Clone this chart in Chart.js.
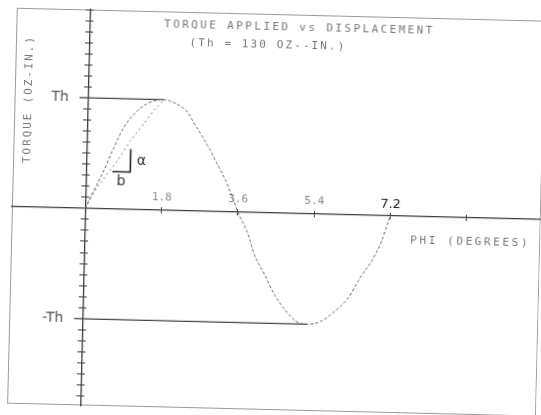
<!DOCTYPE html>
<html>
<head>
<meta charset="utf-8">
<title>Torque applied vs displacement</title>
<script src="https://cdn.jsdelivr.net/npm/chart.js@4.4.1/dist/chart.umd.min.js"></script>
<style>
  html, body { margin: 0; padding: 0; background: #fff; overflow: hidden; }
  #wrap { width: 541px; height: 415px; }
  /* the original is a slightly skewed scan */
  #chart { transform: rotate(1.4deg); transform-origin: 50% 50%; }
</style>
</head>
<body>
<div id="wrap"><canvas id="chart" width="541" height="415"></canvas></div>
<script>
// torque curve: phi in degrees, torque in oz-in (Th = 130)
var curvePhi    = [0, 0.19, 0.38, 0.64, 0.86, 1.13, 1.40, 1.8, 2.07, 2.36, 2.52, 2.68, 2.88, 3.09, 3.30, 3.50, 3.6,
                   3.85, 4.01, 4.26, 4.51, 4.76, 5.04, 5.3, 5.63, 5.94, 6.25, 6.52, 6.78, 7.01, 7.16, 7.2];
var curveTorque = [0, 21, 41, 72, 96, 114, 125, 130, 126, 116, 103, 91, 75, 56, 36, 13, 0,
                   -25, -49, -72, -96, -113, -127, -130, -126, -114, -98, -74, -54, -30, -6, 0];

// the near-straight dotted line from the origin up to the peak
var chordPhi    = [0, 0.27, 0.73, 1.03, 1.33, 1.56, 1.8];
var chordTorque = [0, 25, 57, 81, 101, 117, 130];

// Th / -Th reference lines
var Th = 130;
var thPhi      = [-0.2, 1.8];
var minusThPhi = [-0.2, 5.3];

// slope triangle (a over b)
var slopePhi    = [0.62, 1.04, 1.04];
var slopeTorque = [44, 44, 71];

var xTickValues = [1.8, 3.6, 5.4, 7.2];

function pts(xs, ys) {
  return xs.map(function (x, i) { return {x: x, y: ys[i]}; });
}
function flat(xs, v) {
  return xs.map(function (x) { return {x: x, y: v}; });
}
function zeroPad(s) {
  s.paddingLeft = 0; s.paddingRight = 0; s.paddingTop = 0; s.paddingBottom = 0;
}

var axisColor = '#3c3c3c';

var decorations = {
  id: 'decorations',
  beforeDraw: function (chart) {
    var a = chart.chartArea, ctx = chart.ctx;
    ctx.save();
    ctx.fillStyle = '#fff';
    ctx.fillRect(0, 0, chart.width, chart.height);
    ctx.strokeStyle = '#9a9a9a';
    ctx.lineWidth = 1;
    ctx.strokeRect(a.left + 0.5, a.top + 0.5, a.right - a.left - 1, a.bottom - a.top - 1);
    ctx.restore();
  },
  afterDraw: function (chart) {
    var a = chart.chartArea, ctx = chart.ctx;
    var sx = chart.scales.x, sy = chart.scales.y;
    ctx.save();
    ctx.textAlign = 'center';
    ctx.textBaseline = 'middle';
    ctx.fillStyle = '#777';
    ctx.font = '11px "DejaVu Sans Mono"';

    ctx.letterSpacing = '2.4px';
    ctx.fillText('TORQUE APPLIED vs DISPLACEMENT', 295, a.top + 13);
    ctx.letterSpacing = '2.1px';
    ctx.fillText('(Th = 130 OZ--IN.)', 264, a.top + 31);
    ctx.letterSpacing = '2.6px';
    ctx.fillText('PHI (DEGREES)', 471, 237);

    ctx.save();
    ctx.translate(a.left + 14, 105);
    ctx.rotate(-Math.PI / 2);
    ctx.letterSpacing = '1.9px';
    ctx.fillText('TORQUE (OZ-IN.)', 0, 0);
    ctx.restore();

    // labels of the slope triangle
    ctx.letterSpacing = '0px';
    ctx.fillStyle = '#333';
    ctx.font = '14px "DejaVu Sans"';
    ctx.fillText('α', sx.getPixelForValue(slopePhi[2]) + 11,
                 sy.getPixelForValue((slopeTorque[1] + slopeTorque[2]) / 2));
    ctx.fillText('b', sx.getPixelForValue((slopePhi[0] + slopePhi[1]) / 2),
                 sy.getPixelForValue(slopeTorque[0]) + 10);
    ctx.restore();
  }
};

var xTickOpts = {
  stepSize: 1.8, includeBounds: false, autoSkip: false, maxRotation: 0
};
var yTickOpts = {
  stepSize: 13, includeBounds: false, autoSkip: false
};

var chart = new Chart('chart', {
  type: 'line',
  data: {
    datasets: [
      {
        label: 'torque',
        data: pts(curvePhi, curveTorque),
        borderColor: '#6a6a6a',
        borderWidth: 1,
        borderDash: [3, 2],
        cubicInterpolationMode: 'monotone',
        pointRadius: 0,
        fill: false
      },
      {
        label: 'chord',
        data: pts(chordPhi, chordTorque),
        borderColor: '#8a8a8a',
        borderWidth: 1,
        borderDash: [2, 3],
        tension: 0.2,
        pointRadius: 0,
        fill: false
      },
      {
        label: 'Th',
        data: flat(thPhi, Th),
        borderColor: '#444',
        borderWidth: 1.3,
        pointRadius: 0
      },
      {
        label: '-Th',
        data: flat(minusThPhi, -Th),
        borderColor: '#444',
        borderWidth: 1.3,
        pointRadius: 0
      },
      {
        label: 'slope',
        data: pts(slopePhi, slopeTorque),
        borderColor: '#222',
        borderWidth: 1.6,
        pointRadius: 0
      }
    ]
  },
  options: {
    responsive: false,
    animation: false,
    devicePixelRatio: 1,
    layout: { padding: { left: 12, top: 14, right: 0, bottom: 5 } },
    plugins: {
      legend: { display: false },
      tooltip: { enabled: false }
    },
    scales: {
      x: {
        type: 'linear', position: { y: 0 }, min: -1.73, max: 10.75,
        border: { color: axisColor, width: 1.3 },
        grid: { drawOnChartArea: false, tickLength: 3, color: axisColor },
        ticks: Object.assign({}, xTickOpts, {
          padding: -22,
          callback: function (v) { return xTickValues.indexOf(v) >= 0 ? v.toFixed(1) : ''; },
          color: function (c) { return c.tick && c.tick.value === 7.2 ? '#222' : '#8a8a8a'; },
          font: function (c) {
            return c.tick && c.tick.value === 7.2
              ? { family: 'DejaVu Sans', size: 13 }
              : { family: 'DejaVu Sans Mono', size: 11 };
          }
        }),
        afterFit: zeroPad
      },
      x2: {
        type: 'linear', position: { y: 0 }, min: -1.73, max: 10.75,
        border: { display: false },
        grid: { drawOnChartArea: false, tickLength: -3, color: axisColor },
        ticks: Object.assign({}, xTickOpts, { display: false }),
        afterFit: zeroPad
      },
      y: {
        type: 'linear', position: { x: 0 }, min: -232, max: 234,
        border: { color: axisColor, width: 1.3 },
        grid: { drawOnChartArea: false, tickLength: 4, color: axisColor },
        ticks: Object.assign({}, yTickOpts, { display: false }),
        afterFit: zeroPad
      },
      y2: {
        type: 'linear', position: { x: 0 }, min: -232, max: 234,
        border: { display: false },
        grid: { drawOnChartArea: false, tickLength: -4, color: axisColor },
        ticks: Object.assign({}, yTickOpts, { display: false }),
        afterFit: zeroPad
      },
      // carries only the Th / -Th labels, takes no room at the left
      yLabels: {
        type: 'linear', axis: 'y', position: 'left', min: -232, max: 234,
        border: { display: false },
        grid: { display: false },
        ticks: Object.assign({}, yTickOpts, {
          mirror: true,
          crossAlign: 'far',
          padding: 33,
          color: '#555',
          font: { family: 'DejaVu Sans', size: 14 },
          callback: function (v) { return v === Th ? 'Th' : (v === -Th ? '-Th' : ''); }
        }),
        afterFit: function (s) { zeroPad(s); s.width = 0; }
      }
    }
  },
  plugins: [decorations]
});
</script>
</body>
</html>
